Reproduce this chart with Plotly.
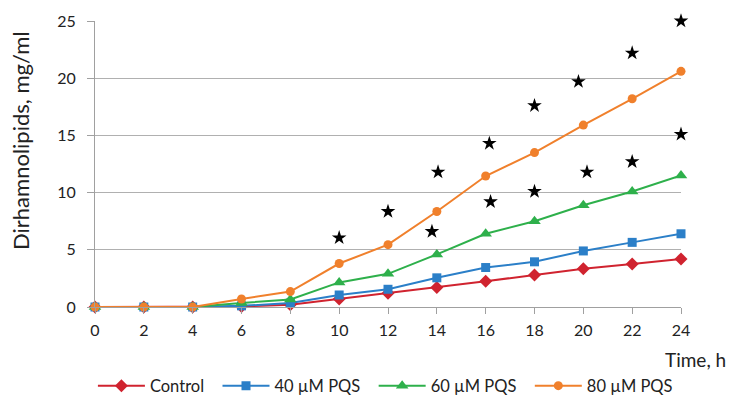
import plotly.graph_objects as go

time_h = [0, 2, 4, 6, 8, 10, 12, 14, 16, 18, 20, 22, 24]
control = [0, 0, 0, 0.05, 0.2, 0.7, 1.2, 1.7, 2.25, 2.8, 3.35, 3.75, 4.2]
pqs40 = [0, 0, 0, 0.1, 0.35, 1.05, 1.55, 2.55, 3.45, 3.95, 4.9, 5.65, 6.4]
pqs60 = [0, 0, 0, 0.35, 0.65, 2.15, 2.9, 4.6, 6.4, 7.5, 8.9, 10.1, 11.5]
pqs80 = [0, 0, 0, 0.7, 1.35, 3.8, 5.45, 8.35, 11.45, 13.5, 15.9, 18.2, 20.6]

star_x = [10, 12, 13.8, 14.05, 16.15, 16.2, 18, 18, 19.8, 20.15, 22, 22, 24, 24]
star_y = [6.05, 8.35, 6.6, 11.8, 14.3, 9.2, 17.6, 10.1, 19.7, 11.8, 22.2, 12.7, 25.0, 15.1]

series = [
    ("Control", control, "#d0232f", "diamond", 10),
    ("40 µM PQS", pqs40, "#2b7fc8", "square", 9),
    ("60 µM PQS", pqs60, "#2eb04b", "triangle-up", 11),
    ("80 µM PQS", pqs80, "#f0802c", "circle", 9),
]

pad = "\u00a0\u00a0"

fig = go.Figure()
for i, (name, vals, col, sym, sz) in enumerate(series):
    fig.add_trace(go.Scatter(
        x=time_h, y=vals, name=name + (pad if i < len(series) - 1 else ""),
        mode="lines+markers",
        line=dict(color=col, width=2),
        marker=dict(symbol=sym, size=sz, color=col),
        cliponaxis=False,
    ))

fig.add_trace(go.Scatter(
    x=star_x, y=star_y, mode="markers", showlegend=False,
    marker=dict(symbol="star", size=11, color="black"),
    cliponaxis=False, hoverinfo="skip",
))

font_family = "Lato, Open Sans, sans-serif"

fig.update_layout(
    width=730, height=388,
    margin=dict(l=87, r=57, t=13, b=89),
    plot_bgcolor="white", paper_bgcolor="white",
    font=dict(family=font_family, color="#222222", size=16),
    showlegend=True,
    legend=dict(orientation="h", xref="container", yref="container",
                x=0.517, xanchor="center", y=0.026, yanchor="middle",
                font=dict(size=16.5), itemwidth=47, traceorder="normal",
                itemsizing="trace"),
    xaxis=dict(range=[0, 24], tickvals=time_h, ticks="outside", ticklen=6,
               tickcolor="#a0a0a0", showgrid=False, showline=True,
               linecolor="#a0a0a0", linewidth=1, zeroline=False,
               tickfont=dict(size=16), automargin=False, ticklabelstandoff=3),
    yaxis=dict(range=[0, 25], tickvals=[0, 5, 10, 15, 20, 25], ticks="outside",
               ticklen=7, tickcolor="#a0a0a0", showgrid=True, gridcolor="#b0b0b0",
               gridwidth=1, showline=True, linecolor="#a0a0a0", linewidth=1,
               zeroline=False, tickfont=dict(size=16), automargin=False,
               ticklabelstandoff=8),
    annotations=[
        dict(text="Time, h", xref="paper", yref="paper", x=1.08, y=-0.185,
             xanchor="right", yanchor="middle", showarrow=False,
             font=dict(size=19)),
        dict(text="Dirhamnolipids, mg/ml", xref="paper", yref="paper",
             x=-0.1263, y=0.584, xanchor="center", yanchor="middle",
             textangle=-90, showarrow=False, font=dict(size=22)),
    ],
)

fig.write_html("out.html")
